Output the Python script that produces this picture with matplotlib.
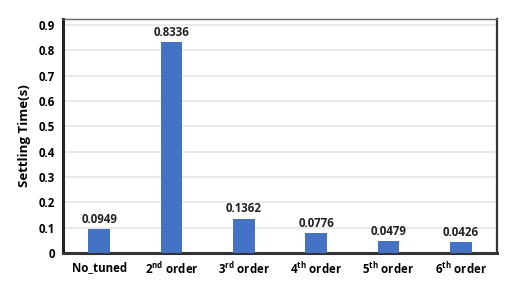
import numpy as np
import matplotlib
matplotlib.use('Agg')
import matplotlib.pyplot as plt
from matplotlib.ticker import FuncFormatter

plt.rcParams['font.family'] = ['Open Sans', 'DejaVu Sans']
plt.rcParams['mathtext.fontset'] = 'custom'
plt.rcParams['mathtext.bf'] = 'Open Sans:bold'
plt.rcParams['mathtext.rm'] = 'Open Sans'

# data
categories = ['No_tuned', r'2$^{\mathbf{nd}}$ order', r'3$^{\mathbf{rd}}$ order',
              r'4$^{\mathbf{th}}$ order', r'5$^{\mathbf{th}}$ order', r'6$^{\mathbf{th}}$ order']
settling = [0.0949, 0.8336, 0.1362, 0.0776, 0.0479, 0.0426]
value_labels = ['0.0949', '0.8336', '0.1362', '0.0776', '0.0479', '0.0426']

fig = plt.figure(figsize=(5.15, 2.9), dpi=100)
ax = fig.add_axes([63/515, 1 - 253/290, (497-63)/515, (253-19)/290])

x = np.arange(len(categories))
bars = ax.bar(x, settling, width=0.3, color='#4472C4', zorder=3)
for xi, v, lab in zip(x, settling, value_labels):
    ax.text(xi, v + 0.012, lab, ha='center', va='bottom', fontsize=8.3, fontweight='bold', color='#222222')

ax.set_xlim(-0.5, 5.5)
ax.set_ylim(0, 0.924)
ax.set_yticks(np.arange(0, 0.91, 0.1))
ax.yaxis.set_major_formatter(FuncFormatter(lambda v, p: '0' if v == 0 else '%.1f' % v))
ax.set_xticks(x)
ax.set_xticklabels(categories, fontsize=8.3, fontweight='bold')
ax.tick_params(axis='both', length=0, labelsize=8.3, pad=6)
for t in ax.get_yticklabels():
    t.set_fontweight('bold')
ax.grid(axis='y', color='#e6e6e6', linewidth=1.2, zorder=0)

ax.spines['left'].set_linewidth(2.2)
ax.spines['bottom'].set_linewidth(2.2)
ax.spines['top'].set_linewidth(1.0)
ax.spines['top'].set_color('#666666')
ax.spines['right'].set_linewidth(1.6)
ax.spines['right'].set_color('#333333')
ax.spines['left'].set_color('#222222')
ax.spines['bottom'].set_color('#333333')

ax.set_ylabel('Settling Time(s)', fontsize=9.5, fontweight='bold', labelpad=5)

fig.savefig('out.png', dpi=100)
